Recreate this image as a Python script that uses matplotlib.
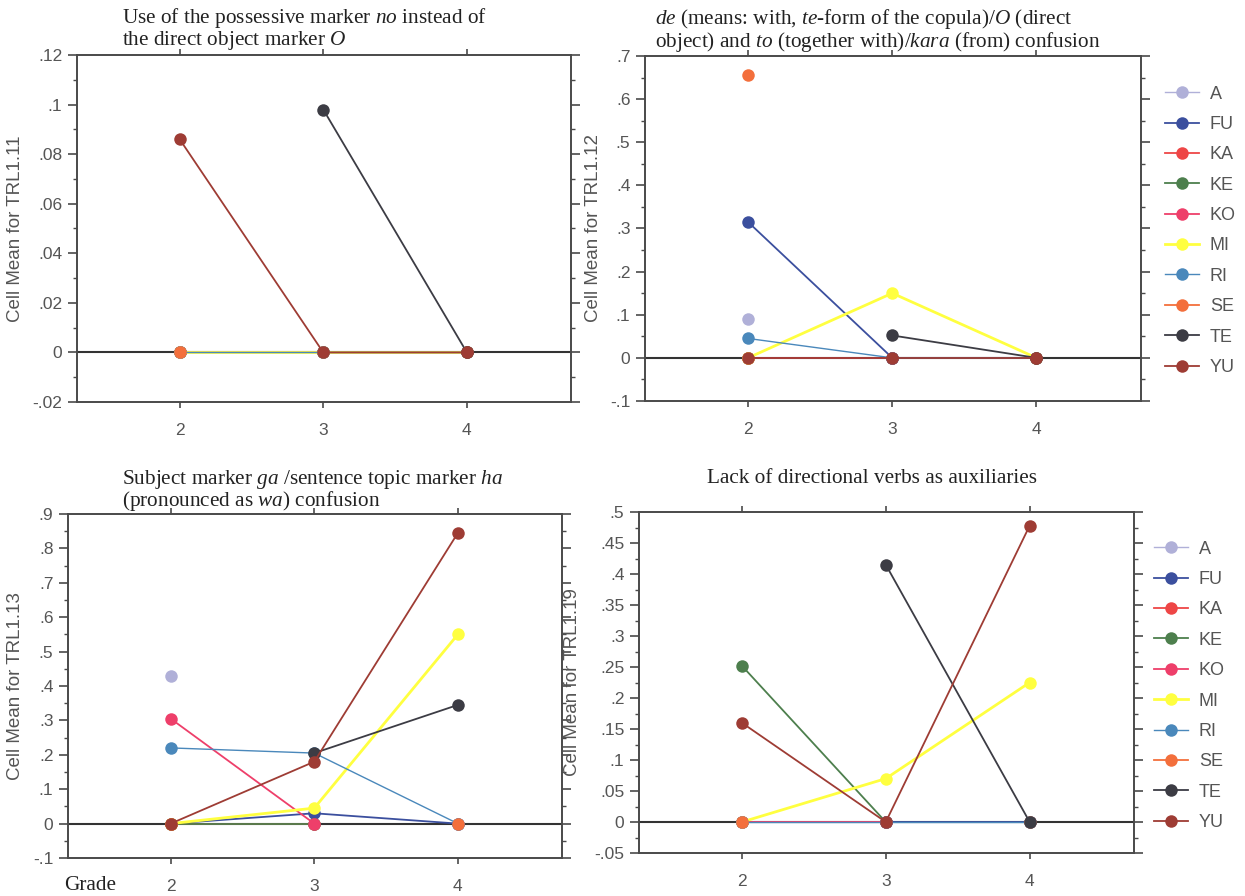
import numpy as np
import matplotlib
matplotlib.use("Agg")
import matplotlib.pyplot as plt
from matplotlib.ticker import MultipleLocator, FuncFormatter

nan = np.nan
grades = [2, 3, 4]
groups = ["A", "FU", "KA", "KE", "KO", "MI", "RI", "SE", "TE", "YU"]
colors = ["#b0b0d8", "#3b4f9e", "#ee4646", "#4d7f4d", "#ee3f6a",
          "#ffff40", "#4a88bb", "#f36f3c", "#3c3c44", "#9e3c34"]

# rows follow `groups`, columns follow `grades`
trl1_11 = [[0, nan, nan], [0, 0, 0], [0, 0, nan], [0, 0, nan], [0, 0, nan],
           [0, 0, 0], [0, 0, 0], [0, nan, 0], [nan, .098, 0], [.086, 0, 0]]
trl1_12 = [[.09, nan, nan], [.315, 0, 0], [0, 0, nan], [0, 0, nan], [0, 0, nan],
           [0, .15, 0], [.045, 0, 0], [.655, nan, 0], [nan, .052, 0], [0, 0, 0]]
trl1_13 = [[.43, nan, nan], [0, .03, 0], [0, 0, nan], [0, 0, nan], [.305, 0, nan],
           [0, .045, .55], [.22, .205, 0], [0, nan, 0], [nan, .205, .345], [0, .18, .845]]
trl1_19 = [[0, nan, nan], [0, 0, 0], [0, 0, nan], [.252, 0, nan], [0, 0, nan],
           [0, .07, .225], [0, 0, 0], [0, nan, 0], [nan, .415, 0], [.16, 0, .478]]

ylabels = ["Cell Mean for TRL1.11", "Cell Mean for TRL1.12",
           "Cell Mean for TRL1.13", "Cell Mean for TRL1.19"]

plt.rcParams['mathtext.fontset'] = 'custom'
plt.rcParams['mathtext.rm'] = 'Liberation Serif'
plt.rcParams['mathtext.it'] = 'Liberation Serif:italic'

W, H = 1245, 896
fig = plt.figure(figsize=(W / 100, H / 100), dpi=100)

def box(l, r, t, b):
    return [l / W, 1 - b / H, (r - l) / W, (b - t) / H]

panels = [
    dict(data=trl1_11, pos=box(77, 571, 55, 402), ylim=(-.02, .12), major=.02, minor=.01,
         lab_x=-0.107, legend=None),
    dict(data=trl1_12, pos=box(645, 1141, 56, 401), ylim=(-.1, .7), major=.1, minor=.05,
         lab_x=-0.087, legend=(1.033, 0.935)),
    dict(data=trl1_13, pos=box(68, 562, 514, 858), ylim=(-.1, .9), major=.1, minor=.05,
         lab_x=-0.089, legend=None),
    dict(data=trl1_19, pos=box(639, 1134, 512, 853), ylim=(-.05, .5), major=.05, minor=.025,
         lab_x=-0.118, legend=(1.025, 0.937)),
]

def fmt(v, pos):
    if abs(v) < 1e-9:
        return "0"
    s = ("%.3f" % v).rstrip("0").rstrip(".")
    return s.replace("0.", ".")

spine_c = "#4a4a4a"
text_c = "#555555"
sans = "Liberation Sans"
serif = "Liberation Serif"

for k, p in enumerate(panels):
    ax = fig.add_axes(p["pos"])
    ax.set_xlim(1.285, 4.725)
    ax.set_ylim(*p["ylim"])
    ax.axhline(0, color="#333333", lw=1.5, zorder=1)
    for i, g in enumerate(groups):
        lw = 1.3
        if g in ("A", "RI"):
            lw = 1.0
        if g == "MI":
            lw = 2.0
        ax.plot(grades, p["data"][i], color=colors[i], lw=lw, marker="o",
                markersize=9, markeredgewidth=0, label=g, zorder=2 + i * 0.1)
    for s in ax.spines.values():
        s.set_color(spine_c)
        s.set_linewidth(1.4)
    ax.set_xticks(grades)
    ax.set_xticklabels([str(g) for g in grades], fontfamily=sans, fontsize=12.5, color=text_c)
    ax.yaxis.set_major_locator(MultipleLocator(p["major"]))
    ax.yaxis.set_minor_locator(MultipleLocator(p["minor"]))
    ax.yaxis.set_major_formatter(FuncFormatter(fmt))
    for lab in ax.get_yticklabels():
        lab.set_fontfamily(sans)
    ax.tick_params(axis="y", which="major", direction="out", length=6.5, width=1.2,
                   color=spine_c, labelsize=12.5, labelcolor=text_c, pad=4,
                   right=True)
    ax.tick_params(axis="y", which="minor", direction="out", length=3, width=1.0,
                   color=spine_c, right=True)
    ax.tick_params(axis="x", which="major", direction="out", length=4, width=1.2,
                   color=spine_c, pad=11, top=True)
    ax.set_ylabel(ylabels[k], fontfamily=sans, fontsize=13.5, color=text_c)
    ax.yaxis.set_label_coords(p["lab_x"], 0.5)
    if p["legend"] is not None:
        leg = ax.legend(loc="upper left", bbox_to_anchor=p["legend"],
                        frameon=False, prop={"family": sans, "size": 13},
                        handlelength=1.9, handletextpad=0.6, labelspacing=0.74,
                        borderaxespad=0)
        for t in leg.get_texts():
            t.set_color(text_c)

title_c = "#222222"
tfs = 15.3
fig.text(122 / W, 1 - 18 / H, r"Use of the possessive marker $\mathit{no}$ instead of",
         family=serif, fontsize=tfs, color=title_c, va="center", ha="left")
fig.text(122 / W, 1 - 40 / H, r"the direct object marker $\mathit{O}$",
         family=serif, fontsize=tfs, color=title_c, va="center", ha="left")
fig.text(655 / W, 1 - 19 / H, r"$\mathit{de}$ (means: with, $\mathit{te}$-form of the copula)/$\mathit{O}$ (direct",
         family=serif, fontsize=tfs, color=title_c, va="center", ha="left")
fig.text(655 / W, 1 - 42 / H, r"object) and $\mathit{to}$ (together with)/$\mathit{kara}$ (from) confusion",
         family=serif, fontsize=tfs, color=title_c, va="center", ha="left")
fig.text(122 / W, 1 - 479 / H, r"Subject marker $\mathit{ga}$ /sentence topic marker $\mathit{ha}$",
         family=serif, fontsize=tfs, color=title_c, va="center", ha="left")
fig.text(122 / W, 1 - 501 / H, r"(pronounced as $\mathit{wa}$) confusion",
         family=serif, fontsize=tfs, color=title_c, va="center", ha="left")
fig.text(872 / W, 1 - 478 / H, "Lack of directional verbs as auxiliaries",
         family=serif, fontsize=tfs, color=title_c, va="center", ha="center")
fig.text(90 / W, 1 - 885 / H, "Grade", family=serif, fontsize=tfs, color=title_c,
         va="center", ha="center")

fig.savefig("out.png", dpi=100, facecolor="white")
